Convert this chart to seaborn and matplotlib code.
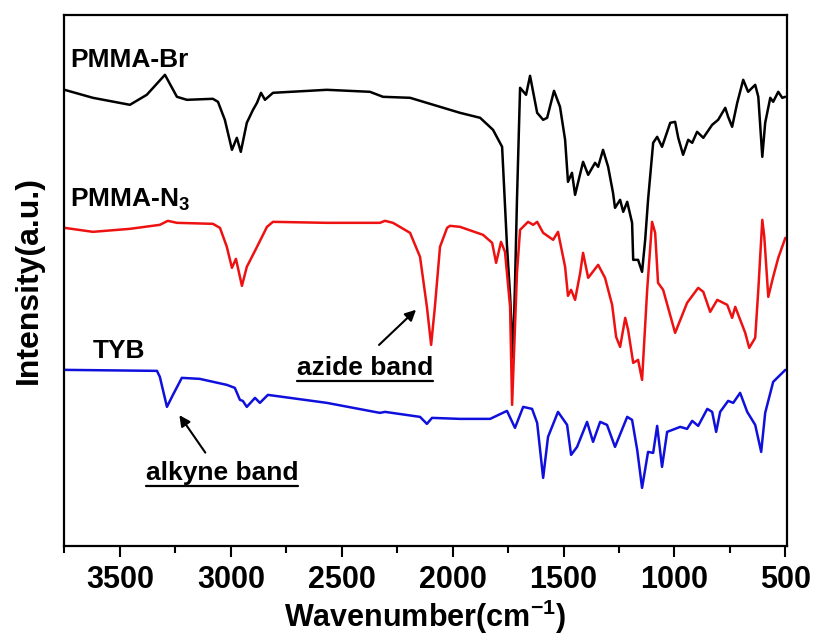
import numpy as np
import pandas as pd
import seaborn as sns
from matplotlib import pyplot as plt
from matplotlib.lines import Line2D
from matplotlib.ticker import MultipleLocator

# spectra: wavenumber (cm-1) and intensity (a.u.)
wn_br = [3750, 3622, 3455, 3379, 3297, 3243, 3198, 3081, 3058, 3027, 2995, 2973, 2955, 2928, 2900,
         2882, 2864, 2846, 2810, 2567, 2373, 2314, 2192, 2057, 1967, 1876, 1818, 1777, 1755, 1741,
         1728, 1719, 1710, 1696, 1669, 1651, 1619, 1592, 1574, 1543, 1516, 1493, 1480, 1462, 1448,
         1412, 1389, 1358, 1344, 1322, 1299, 1277, 1268, 1245, 1231, 1213, 1191, 1186, 1164, 1146,
         1132, 1119, 1096, 1078, 1056, 1019, 997, 983, 961, 938, 920, 898, 870, 830, 803,
         771, 758, 740, 717, 690, 668, 636, 622, 604, 591, 568, 555, 532, 514, 500]
int_br = [456, 448, 441, 451, 471, 449, 446, 447, 444, 426, 396, 408, 394, 423, 436,
          443, 453, 446, 453, 456, 454, 449, 448, 439, 433, 428, 416, 399, 300, 250,
          188, 260, 346, 458, 451, 470, 433, 426, 428, 455, 439, 406, 364, 373, 351,
          384, 371, 383, 379, 396, 379, 353, 338, 346, 334, 344, 323, 286, 286, 274,
          306, 346, 403, 409, 399, 423, 424, 408, 391, 406, 403, 414, 408, 421, 426,
          438, 429, 419, 443, 466, 454, 461, 449, 389, 423, 448, 444, 454, 448, 449]

wn_n3 = [3750, 3622, 3455, 3320, 3284, 3243, 3081, 3049, 3018, 2995, 2977, 2950, 2928, 2882, 2837,
         2810, 2567, 2328, 2305, 2269, 2192, 2147, 2116, 2097, 2080, 2057, 2025, 2012, 1967, 1863,
         1822, 1804, 1782, 1764, 1741, 1732, 1710, 1696, 1660, 1637, 1619, 1592, 1547, 1525, 1493,
         1480, 1466, 1448, 1425, 1412, 1389, 1344, 1313, 1281, 1263, 1245, 1222, 1209, 1186, 1164,
         1146, 1123, 1101, 1087, 1074, 1051, 997, 943, 893, 870, 839, 807, 762, 740, 726,
         681, 663, 636, 622, 604, 595, 577, 555, 532, 500]
int_n3 = [318, 314, 317, 321, 325, 323, 322, 318, 299, 278, 287, 260, 279, 299, 319,
          324, 323, 323, 325, 323, 313, 289, 239, 201, 239, 299, 318, 320, 319, 311,
          303, 283, 304, 294, 239, 141, 273, 316, 324, 321, 324, 313, 306, 314, 279,
          250, 256, 246, 273, 293, 268, 281, 268, 241, 209, 199, 228, 216, 183, 186,
          166, 256, 324, 313, 263, 256, 213, 243, 258, 254, 234, 246, 241, 228, 239,
          213, 198, 208, 256, 326, 309, 249, 269, 288, 308]

wn_tyb = [3750, 3333, 3320, 3288, 3261, 3221, 3140, 3018, 2982, 2959, 2946, 2928, 2891, 2869, 2833,
          2567, 2328, 2305, 2147, 2116, 2093, 1967, 1831, 1755, 1719, 1682, 1642, 1619, 1592, 1570,
          1525, 1484, 1466, 1439, 1394, 1367, 1335, 1304, 1268, 1213, 1191, 1168, 1146, 1119, 1096,
          1078, 1056, 1033, 974, 943, 920, 893, 852, 830, 812, 794, 758, 735, 704, 672,
          636, 609, 591, 555, 500]
int_tyb = [176, 175, 169, 139, 151, 168, 167, 161, 158, 146, 145, 139, 148, 143, 151,
           143, 133, 134, 129, 122, 128, 127, 127, 135, 118, 139, 137, 123, 68, 109,
           134, 121, 91, 99, 124, 104, 124, 121, 99, 129, 126, 96, 58, 94, 93,
           120, 79, 114, 119, 117, 125, 120, 137, 134, 114, 134, 145, 143, 153, 134,
           121, 94, 133, 164, 176]

samples = ["PMMA-Br", "PMMA-N3", "TYB"]
colors = ["black", "#ee1111", "#1010dd"]

df = pd.concat([
    pd.DataFrame({"wn": wn_br, "I": int_br, "sample": samples[0]}),
    pd.DataFrame({"wn": wn_n3, "I": int_n3, "sample": samples[1]}),
    pd.DataFrame({"wn": wn_tyb, "I": int_tyb, "sample": samples[2]}),
])

sns.set_style("ticks")
plt.rcParams['font.family'] = ['Liberation Sans', 'DejaVu Sans']
plt.rcParams['font.weight'] = 'bold'
plt.rcParams['text.color'] = 'black'
plt.rcParams['axes.labelcolor'] = 'black'
plt.rcParams['axes.edgecolor'] = 'black'
plt.rcParams['xtick.color'] = 'black'
plt.rcParams['mathtext.fontset'] = 'custom'
plt.rcParams['mathtext.rm'] = 'Liberation Sans:bold'
plt.rcParams['mathtext.bf'] = 'Liberation Sans:bold'
plt.rcParams['mathtext.default'] = 'bf'

fig = plt.figure(figsize=(8.18, 6.43), dpi=100)
ax = fig.add_axes([0.078, 0.151, 0.884, 0.826])

sns.lineplot(data=df, x="wn", y="I", hue="sample", palette=colors, estimator=None,
             sort=False, linewidth=1.8, legend=False, ax=ax)

ax.set_xlim(3753, 493)
ax.set_ylim(0, 531)
ax.set_yticks([])
ax.xaxis.set_major_locator(MultipleLocator(500))
ax.xaxis.set_minor_locator(MultipleLocator(250))
ax.tick_params(axis='x', which='major', direction='out', length=8, width=1.5,
               labelsize=22, pad=6)
ax.tick_params(axis='x', which='minor', direction='out', length=5, width=1.5)
for lab in ax.get_xticklabels():
    lab.set_fontweight('bold')
for s in ax.spines.values():
    s.set_linewidth(1.6)
    s.set_visible(True)
    s.set_color('black')

ax.set_xlabel(r"Wavenumber(cm$^{-1}$)", fontsize=22, fontweight='bold', labelpad=2)
ax.set_ylabel("Intensity(a.u.)", fontsize=23, fontweight='bold', labelpad=14)

ax.text(3726, 479, "PMMA-Br", fontsize=19, fontweight='bold', va='baseline')
ax.text(3726, 339, r"PMMA-N$_3$", fontsize=19, fontweight='bold', va='baseline')
ax.text(3622, 188, "TYB", fontsize=19, fontweight='bold', va='baseline')

t_az = ax.text(2702, 171, "azide band", fontsize=19, fontweight='bold', va='baseline')
ax.annotate("", xy=(2156, 238), xytext=(2341, 199),
            arrowprops=dict(arrowstyle='-|>', color='black', lw=1.5, mutation_scale=16))
t_al = ax.text(3383, 66, "alkyne band", fontsize=19, fontweight='bold', va='baseline')
ax.annotate("", xy=(3239, 133), xytext=(3108, 91),
            arrowprops=dict(arrowstyle='-|>', color='black', lw=1.5, mutation_scale=16))

# underline the two band labels
fig.canvas.draw()
inv = fig.transFigure.inverted()
for t in (t_az, t_al):
    bb = t.get_window_extent()
    (x0, y0), (x1, y1) = inv.transform([(bb.x0, bb.y0 - 1), (bb.x1, bb.y0 - 1)])
    fig.add_artist(Line2D([x0, x1], [y0, y1], color='black', lw=1.6,
                          transform=fig.transFigure))

fig.savefig("out.png", dpi=100)
